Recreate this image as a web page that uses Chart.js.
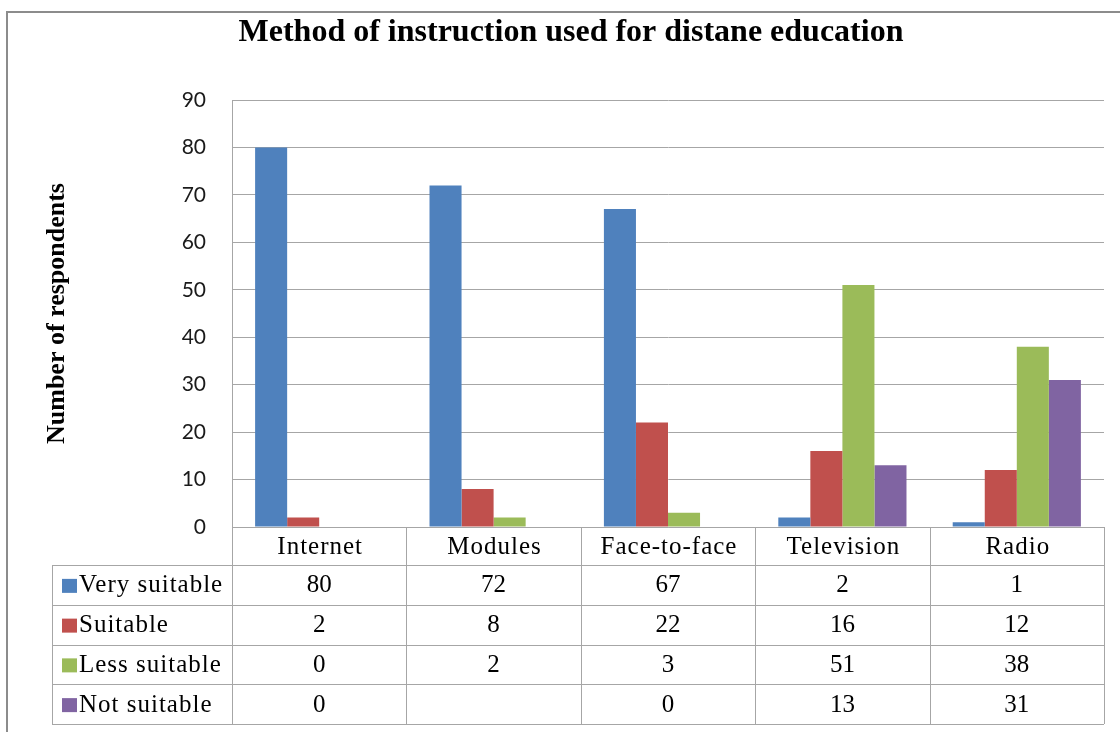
<!DOCTYPE html>
<html>
<head>
<meta charset="utf-8">
<script src="https://cdn.jsdelivr.net/npm/chart.js@4.4.1/dist/chart.umd.min.js"></script>
<style>
  html, body { margin: 0; padding: 0; background: #fff; }
  #wrap { width: 1120px; height: 732px; position: relative; }
</style>
</head>
<body>
<div id="wrap"><canvas id="chart" width="1120" height="732"></canvas></div>
<script>
// data
const categories   = ['Internet', 'Modules', 'Face-to-face', 'Television', 'Radio'];
const seriesNames  = ['Very suitable', 'Suitable', 'Less suitable', 'Not suitable'];
const verySuitable = [80, 72, 67, 2, 1];
const suitable     = [2, 8, 22, 16, 12];
const lessSuitable = [0, 2, 3, 51, 38];
const notSuitable  = [0, null, 0, 13, 31];
const yTicks       = [0, 10, 20, 30, 40, 50, 60, 70, 80, 90];

const BLUE = '#4F81BD';
const RED = '#C0504D';
const GREEN = '#9BBB59';
const PURPLE = '#8064A2';
const LINE = '#A6A6A6';
const SERIF = "'Liberation Serif', 'Times New Roman', serif";

// frame + data table under the plot, drawn from the chart's own x scale
const tablePlugin = {
    id: 'dataTable',
    beforeDraw(chart) {
        const ctx = chart.ctx;
        ctx.save();
        ctx.strokeStyle = '#8C8C8C';
        ctx.lineWidth = 2;
        ctx.beginPath();
        ctx.moveTo(7, 732); ctx.lineTo(7, 12); ctx.lineTo(1120, 12);
        ctx.stroke();
        ctx.restore();
    },
    afterDraw(chart) {
        const ctx = chart.ctx;
        const x = chart.scales.x;
        const area = chart.chartArea;
        const n = categories.length;
        const colW = (area.right - area.left) / n;
        const headTop = area.bottom;
        const headBot = headTop + 38;
        const rowH = 39.75;
        const legLeft = 52;
        const tableBot = headBot + rowH * seriesNames.length;
        const rows = [verySuitable, suitable, lessSuitable, notSuitable];
        const colors = [BLUE, RED, GREEN, PURPLE];

        ctx.save();
        ctx.strokeStyle = LINE;
        ctx.lineWidth = 1;
        ctx.beginPath();
        // vertical borders
        for (let i = 0; i <= n; i++) {
            const bx = Math.round(area.left + i * colW) + 0.5;
            ctx.moveTo(bx, headTop); ctx.lineTo(bx, tableBot);
        }
        ctx.moveTo(legLeft + 0.5, headBot); ctx.lineTo(legLeft + 0.5, tableBot);
        // horizontal borders
        for (let r = 0; r <= seriesNames.length; r++) {
            const y = Math.round(headBot + r * rowH) + 0.5;
            ctx.moveTo(legLeft, y); ctx.lineTo(area.right, y);
        }
        ctx.stroke();

        ctx.fillStyle = '#000';
        ctx.textBaseline = 'middle';
        ctx.font = '25px ' + SERIF;
        ctx.letterSpacing = '1px';
        ctx.textAlign = 'center';
        categories.forEach((c, i) => {
            ctx.fillText(c, x.getPixelForValue(i) + 1, (headTop + headBot) / 2 + 1);
        });
        rows.forEach((vals, r) => {
            const cy = headBot + r * rowH + rowH / 2 + 1;
            ctx.font = '25px ' + SERIF;
            ctx.letterSpacing = '0px';
            ctx.textAlign = 'center';
            vals.forEach((v, i) => {
                if (v === null) return;
                ctx.fillText(String(v), x.getPixelForValue(i), cy);
            });
            ctx.fillStyle = colors[r];
            ctx.fillRect(legLeft + 10, cy - 7, 15, 14);
            ctx.fillStyle = '#000';
            ctx.letterSpacing = '1px';
            ctx.textAlign = 'left';
            ctx.fillText(seriesNames[r], legLeft + 27, cy);
        });
        ctx.restore();
    }
};

new Chart(document.getElementById('chart'), {
    type: 'bar',
    data: {
        labels: categories,
        datasets: [
            { label: seriesNames[0], data: verySuitable, backgroundColor: BLUE },
            { label: seriesNames[1], data: suitable, backgroundColor: RED },
            { label: seriesNames[2], data: lessSuitable, backgroundColor: GREEN },
            { label: seriesNames[3], data: notSuitable, backgroundColor: PURPLE }
        ]
    },
    options: {
        responsive: false,
        animation: false,
        devicePixelRatio: 1,
        layout: { padding: { left: 38, right: 16, top: 0, bottom: 205 } },
        datasets: { bar: { categoryPercentage: 0.735, barPercentage: 1 } },
        plugins: {
            legend: { display: false },
            tooltip: { enabled: false },
            title: {
                display: true,
                text: 'Method of instruction used for distane education',
                color: '#000',
                font: { family: SERIF, size: 32, weight: 'bold' },
                padding: { top: 14, bottom: 47.6 }
            }
        },
        scales: {
            x: {
                display: true,
                grid: { display: false, drawTicks: false },
                border: { display: true, color: LINE },
                ticks: { display: false }
            },
            y: {
                min: 0, max: 90,
                afterBuildTicks(scale) { scale.ticks = yTicks.map(v => ({ value: v })); },
                afterFit(scale) { scale.width = 194; },
                grid: { color: LINE, drawTicks: false },
                border: { color: LINE },
                ticks: {
                    color: '#1a1a1a',
                    padding: 26,
                    font: { family: "Lato, 'Open Sans', sans-serif", size: 21 }
                },
                title: {
                    display: true,
                    text: 'Number of respondents',
                    color: '#000',
                    font: { family: SERIF, size: 26, weight: 'bold' },
                    padding: { top: 4, bottom: 0 }
                }
            }
        }
    },
    plugins: [tablePlugin]
});
</script>
</body>
</html>
